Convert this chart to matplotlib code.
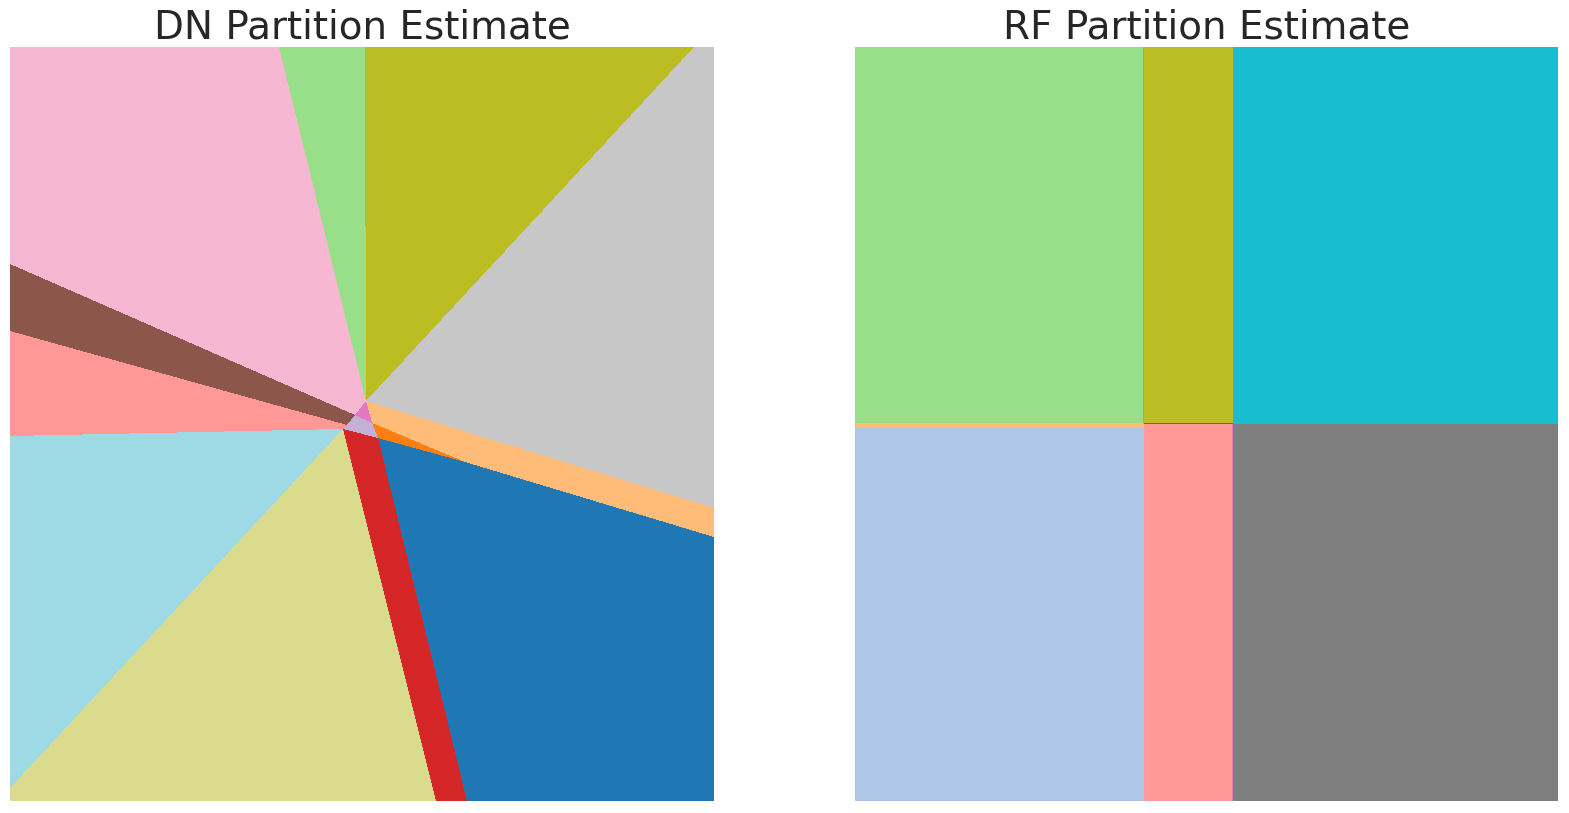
import numpy as np
import matplotlib
matplotlib.use("Agg")
import matplotlib.pyplot as plt
from matplotlib.path import Path

plt.rcParams['font.family'] = 'DejaVu Sans'

# panel grid size (cells), origin at top-left
W, H = 704, 754

# DN partition: tab20 class index and region corner points (x, y from top-left)
dn_labels = [13, 5, 16, 15, 3, 2, 0, 6, 17, 19, 7, 10, 12, 9]
dn_regions = [
    [(0, 0), (269, 0), (356, 354), (345, 368), (0, 217)],          # light pink
    [(269, 0), (355, 0), (356, 354)],                              # light green
    [(355, 0), (684, 0), (356, 354)],                              # olive
    [(684, 0), (704, 0), (704, 461), (356, 354)],                  # light gray
    [(356, 354), (704, 461), (704, 490), (455, 415), (362, 376)],  # light orange
    [(362, 376), (455, 415), (368, 391)],                          # orange
    [(368, 391), (455, 415), (704, 490), (704, 754), (457, 754)],  # blue
    [(333, 382), (368, 391), (457, 754), (426, 754)],              # red
    [(333, 382), (426, 754), (0, 754), (0, 741)],                  # khaki
    [(0, 389), (333, 382), (0, 741)],                              # light cyan
    [(0, 284), (337, 378), (333, 382), (0, 389)],                  # salmon
    [(0, 217), (345, 368), (337, 378), (0, 284)],                  # brown
    [(356, 354), (362, 376), (345, 368)],                          # pink
    [(345, 368), (337, 378), (333, 382), (368, 391), (362, 376)],  # lavender
]

# RF partition: axis-aligned leaves (x0, x1, y0, y1) and tab20 class index
rf_labels = [5, 16, 18, 3, 1, 7, 14, 12, 10, 12]
rf_x0 = [0, 289, 378, 0, 0, 289, 378, 288.5, 289, 377.5]
rf_x1 = [289, 378, 703, 289, 289, 378, 703, 289.5, 378, 378.5]
rf_y0 = [0, 0, 0, 376.5, 380.7, 376.5, 376.7, 0, 376.5, 377.5]
rf_y1 = [376.5, 376.5, 376.7, 380.7, 754, 754, 754, 376.5, 377.5, 754]


def dn_grid():
    xs, ys = np.meshgrid(np.arange(W) + 0.5, np.arange(H) + 0.5)
    pts = np.column_stack([xs.ravel(), ys.ravel()])
    grid = np.full(pts.shape[0], 15)
    for lab, poly in zip(dn_labels, dn_regions):
        inside = Path(poly).contains_points(pts, radius=0.01)
        grid[inside] = lab
    return grid.reshape(H, W)


def rf_grid():
    w = 703
    xs, ys = np.meshgrid(np.arange(w) + 0.5, np.arange(H) + 0.5)
    grid = np.full((H, w), 14)
    for lab, x0, x1, y0, y1 in zip(rf_labels, rf_x0, rf_x1, rf_y0, rf_y1):
        grid[(xs >= x0) & (xs < x1) & (ys >= y0) & (ys < y1)] = lab
    return grid


fig = plt.figure(figsize=(15.69, 8.13), dpi=100, facecolor='white')
ax1 = fig.add_axes([10 / 1569, 1 - 801 / 813, 704 / 1569, 754 / 813])
ax2 = fig.add_axes([855 / 1569, 1 - 801 / 813, 703 / 1569, 754 / 813])

for ax, grid, title in [(ax1, dn_grid(), 'DN Partition Estimate'),
                        (ax2, rf_grid(), 'RF Partition Estimate')]:
    ax.imshow(grid, cmap='tab20', vmin=-0.5, vmax=19.5,
              interpolation='nearest', aspect='auto')
    ax.set_title(title, fontsize=28, color='#262626', pad=5.5)
    ax.axis('off')

fig.savefig('out.png', dpi=100)
